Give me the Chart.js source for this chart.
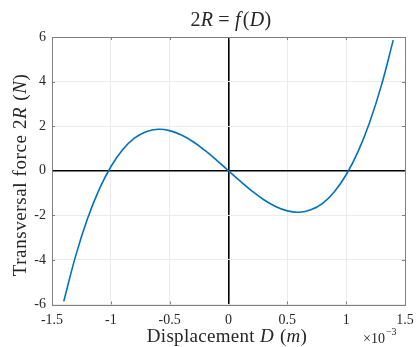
<!DOCTYPE html>
<html>
<head>
<meta charset="utf-8">
<script src="https://cdn.jsdelivr.net/npm/chart.js@4/dist/chart.umd.min.js"></script>
<style>
  html, body { margin: 0; padding: 0; background: #fff; }
  #wrap { width: 416px; height: 347px; }
</style>
</head>
<body>
<div id="wrap"><canvas id="grafik"></canvas></div>
<script>
// =================
// DATA (D in units of 1e-3 m)
// =================
let dispD = [-1.4, -1.3, -1.2, -1.1, -1.0, -0.9, -0.8, -0.7, -0.6, -0.5, -0.4, -0.3, -0.2, -0.1,
             0, 0.1, 0.2, 0.3, 0.4, 0.5, 0.6, 0.7, 0.8, 0.9, 1.0, 1.1, 1.2, 1.3, 1.4];
let force2R = [-5.86, -3.84, -2.18, -0.85, 0.18, 0.94, 1.46, 1.75, 1.86, 1.80, 1.60, 1.30, 0.91, 0.47,
               0, -0.47, -0.91, -1.30, -1.60, -1.80, -1.86, -1.75, -1.46, -0.94, -0.18, 0.85, 2.18, 3.84, 5.86];
let xTicks = [-1.5, -1, -0.5, 0, 0.5, 1, 1.5];
let yTicks = [-6, -4, -2, 0, 2, 4, 6];

let serif = "'Liberation Serif', 'DejaVu Serif', serif";
let textColor = "#262626";

// =================
// TEXT WITH ITALIC PARTS
// parts: [text, italic] or a number = extra gap in px
// =================
function drawRich(ctx, parts, x, y, size, spacing) {
    ctx.letterSpacing = (spacing || 0) + "px";
    let total = 0;
    parts.forEach(p => {
        if (typeof p === "number") { total += p; return; }
        ctx.font = (p[1] ? "italic " : "") + size + "px " + serif;
        total += ctx.measureText(p[0]).width;
    });
    let cx = x - total / 2;
    ctx.textAlign = "left";
    ctx.textBaseline = "middle";
    parts.forEach(p => {
        if (typeof p === "number") { cx += p; return; }
        ctx.font = (p[1] ? "italic " : "") + size + "px " + serif;
        ctx.fillText(p[0], cx, y);
        cx += ctx.measureText(p[0]).width;
    });
    ctx.letterSpacing = "0px";
}

let labelPlugin = {
    id: "labelPlugin",
    afterDraw(chart) {
        let ctx = chart.ctx;
        let a = chart.chartArea;
        let sx = chart.scales.x, sy = chart.scales.y;
        ctx.save();

        // frame round the plot
        ctx.strokeStyle = "#7f7f7f";
        ctx.lineWidth = 1;
        ctx.strokeRect(Math.round(a.left) + 0.5, Math.round(a.top) + 0.5,
                       Math.round(a.right - a.left), Math.round(a.bottom - a.top));

        // small inward ticks
        ctx.beginPath();
        xTicks.forEach(v => {
            let px = Math.round(sx.getPixelForValue(v)) + 0.5;
            ctx.moveTo(px, a.bottom); ctx.lineTo(px, a.bottom - 3);
            ctx.moveTo(px, a.top); ctx.lineTo(px, a.top + 3);
        });
        yTicks.forEach(v => {
            let py = Math.round(sy.getPixelForValue(v)) + 0.5;
            ctx.moveTo(a.left, py); ctx.lineTo(a.left + 3, py);
            ctx.moveTo(a.right, py); ctx.lineTo(a.right - 3, py);
        });
        ctx.stroke();

        ctx.fillStyle = textColor;
        // title
        drawRich(ctx, [["2", false], ["R", true], 5, ["=", false], 5, ["f", true], 2, ["(", false], ["D", true], [")", false]],
                 231, 21, 20, 0.3);
        // x title
        drawRich(ctx, [["Displacement ", false], ["D", true], 6, ["(", false], ["m", true], [")", false]],
                 227, 337, 19, 0.3);
        // multiplier
        ctx.font = "14px " + serif;
        ctx.textAlign = "left";
        ctx.textBaseline = "middle";
        ctx.fillText("×10", 363, 339);
        let w = ctx.measureText("×10").width;
        ctx.font = "10px " + serif;
        ctx.fillText("−3", 364 + w, 332);
        // y title
        ctx.translate(21, 175);
        ctx.rotate(-Math.PI / 2);
        drawRich(ctx, [["Transversal force 2", false], ["R", true], 6, ["(", false], ["N", true], [")", false]],
                 0, 0, 19, 0.6);
        ctx.restore();
    }
};

function zeroLine(c) {
    return c.tick && c.tick.value === 0;
}

new Chart(document.getElementById("grafik").getContext("2d"), {
    type: "line",
    data: {
        datasets: [{
            data: dispD.map((d, i) => ({ x: d, y: force2R[i] })),
            borderColor: "#0072BD",
            borderWidth: 1.6,
            pointRadius: 0,
            tension: 0.4,
            fill: false
        }]
    },
    options: {
        responsive: true,
        maintainAspectRatio: false,
        animation: false,
        layout: { padding: { top: 37, right: 0, left: 0, bottom: 0 } },
        plugins: { legend: { display: false }, tooltip: { enabled: false }, title: { display: false } },
        scales: {
            x: {
                type: "linear",
                min: -1.5, max: 1.5,
                afterBuildTicks: s => { s.ticks = xTicks.map(v => ({ value: v })); },
                afterFit: s => { s.height = 42.5; s.paddingRight = 11; },
                border: { display: false },
                grid: {
                    color: c => zeroLine(c) ? "#000" : "#ebebeb",
                    lineWidth: c => zeroLine(c) ? 1.6 : 1,
                    drawTicks: false
                },
                ticks: {
                    color: textColor,
                    font: { family: serif, size: 14 },
                    padding: 7,
                    maxRotation: 0,
                    callback: v => String(v)
                }
            },
            y: {
                min: -6, max: 6,
                afterBuildTicks: s => { s.ticks = yTicks.map(v => ({ value: v })); },
                afterFit: s => { s.width = 52; },
                border: { display: false },
                grid: {
                    color: c => zeroLine(c) ? "#000" : "#ebebeb",
                    lineWidth: c => zeroLine(c) ? 1.6 : 1,
                    drawTicks: false
                },
                ticks: {
                    color: textColor,
                    font: { family: serif, size: 14 },
                    padding: 6,
                    callback: v => String(v)
                }
            }
        }
    },
    plugins: [labelPlugin]
});
</script>
</body>
</html>
